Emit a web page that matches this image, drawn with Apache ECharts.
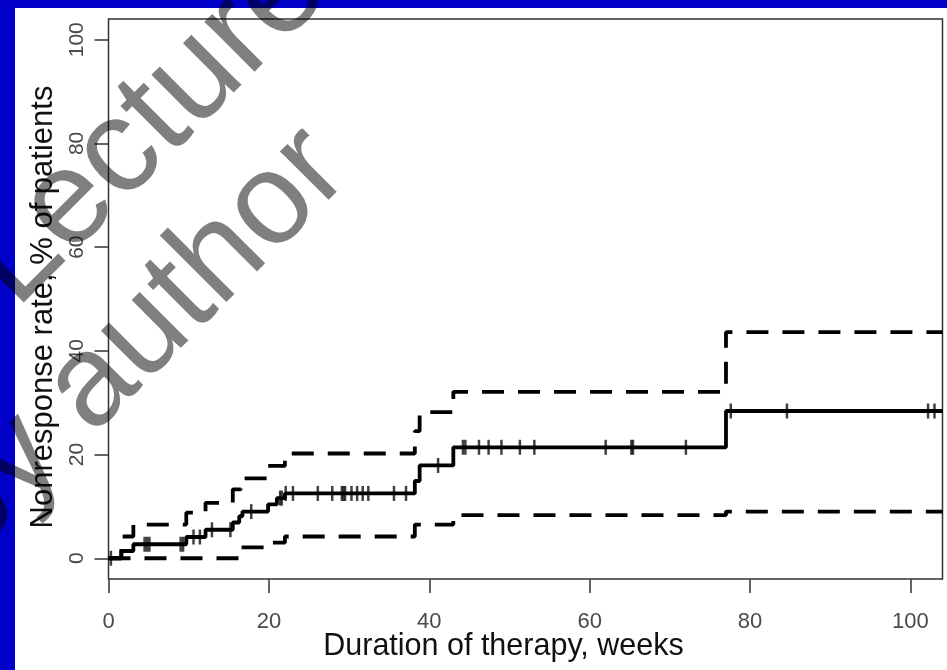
<!DOCTYPE html>
<html>
<head>
<meta charset="utf-8">
<script src="https://cdn.jsdelivr.net/npm/echarts@6/dist/echarts.min.js"></script>
<style>
  html, body { margin: 0; padding: 0; background: #0000c8; }
  #chart { width: 947px; height: 670px; }
</style>
</head>
<body>
<div id="chart"></div>
<script>
// tick labels
const xTicks = [0, 20, 40, 60, 80, 100];
const yTicks = [0, 20, 40, 60, 80, 100];

// Kaplan-Meier estimate (weeks, %)
const estTimes  = [0, 1.6, 3.1, 9.7, 12.1, 15.5, 16.3, 16.7, 19.9, 21.0, 22.0, 38.2, 38.8, 43.0, 77.0, 104];
const estValues = [0, 1.4, 2.7, 4.1, 5.5, 6.9, 8.1, 9.0, 10.4, 11.6, 12.5, 14.9, 17.9, 21.4, 28.4, 28.4];

// upper confidence band
const upTimes  = [0, 1.6, 3.1, 9.7, 12.1, 15.5, 16.5, 19.9, 22.0, 38.2, 38.8, 43.0, 77.0, 104];
const upValues = [0, 4.2, 6.5, 8.8, 10.7, 13.3, 15.4, 17.8, 20.2, 24.5, 28.2, 32.1, 43.6, 43.6];

// lower confidence band
const lowTimes  = [0, 16.3, 19.9, 22.0, 38.2, 43.0, 77.0, 104];
const lowValues = [0, 2.1, 3.0, 4.2, 6.5, 8.3, 9.0, 9.0];

// censored observations (weeks)
const censorTimes = [0.3, 4.5, 4.8, 5.1, 9.0, 9.3, 10.6, 11.4, 12.9, 15.2, 17.8, 21.4, 21.6,
  22.1, 23.0, 26.1, 27.9, 29.1, 29.3, 29.5, 30.3, 31.0, 31.7, 32.4, 35.6, 37.1, 41.1,
  44.2, 44.5, 46.2, 47.4, 49.0, 51.3, 53.1, 62.0, 65.2, 65.4, 72.0, 77.6, 84.6, 102.2, 103.0];

function pairs(t, v) {
  return t.map((x, i) => [x, v[i]]);
}
// value of step curve at time t
function stepAt(t, times, values) {
  let v = values[0];
  for (let i = 0; i < times.length; i++) {
    if (times[i] <= t) v = values[i];
  }
  return v;
}

const myChart = echarts.init(document.getElementById("chart"));
const font = "'Liberation Sans', Arial, sans-serif";

const option = {
  backgroundColor: "#0000c8",
  animation: false,
  graphic: {
    elements: [
      {
        type: "rect",
        z: -10,
        shape: { x: 15, y: 8, width: 932, height: 662 },
        style: { fill: "#ffffff" },
      },
      {
        type: "text",
        z: 100,
        x: 148,
        y: 126,
        rotation: Math.PI / 4,
        style: {
          text: "Lecture",
          fill: "rgba(0,0,0,0.5)",
          font: "134px " + font,
          align: "center",
          verticalAlign: "middle",
        },
      },
      {
        type: "text",
        z: 100,
        x: 136,
        y: 342,
        rotation: Math.PI / 4,
        style: {
          text: "by author",
          fill: "rgba(0,0,0,0.5)",
          font: "130px " + font,
          align: "center",
          verticalAlign: "middle",
        },
      },
    ],
  },
  grid: {
    left: 108.5,
    top: 19,
    right: 4.5,
    bottom: 91,
    outerBoundsMode: "none",
    show: true,
    borderColor: "#333",
    borderWidth: 1.5,
    backgroundColor: "transparent",
  },
  xAxis: {
    type: "value",
    min: 0,
    max: 104,
    name: "Duration of therapy, weeks",
    nameLocation: "middle",
    nameGap: 52,
    nameMoveOverlap: false,
    nameTextStyle: {
      color: "#111",
      fontSize: 30.5,
      fontFamily: font,
      padding: [0, 44, 0, 0],
    },
    axisLine: { show: false, onZero: false },
    axisTick: {
      show: true,
      customValues: xTicks,
      length: 14,
      lineStyle: { color: "#333", width: 1.5 },
    },
    axisLabel: {
      customValues: xTicks,
      color: "#4a4a4a",
      fontSize: 22,
      fontFamily: font,
      margin: 32,
    },
    splitLine: { show: false },
  },
  yAxis: {
    type: "value",
    min: -4,
    max: 104,
    name: "Nonresponse rate, % of patients",
    nameLocation: "middle",
    nameGap: 50,
    nameMoveOverlap: false,
    nameTextStyle: {
      color: "#111",
      fontSize: 31,
      fontFamily: font,
      padding: [0, 16, 0, 0],
    },
    axisLine: { show: false, onZero: false },
    axisTick: {
      show: true,
      customValues: yTicks,
      length: 14,
      lineStyle: { color: "#333", width: 1.5 },
    },
    axisLabel: {
      customValues: yTicks,
      rotate: 90,
      color: "#4a4a4a",
      fontSize: 21,
      fontFamily: font,
      margin: 21,
    },
    splitLine: { show: false },
  },
  series: [
    {
      name: "upper",
      type: "line",
      step: "end",
      symbol: "none",
      data: pairs(upTimes, upValues),
      lineStyle: { color: "#000", width: 3.8, type: [22, 14] },
    },
    {
      name: "lower",
      type: "line",
      step: "end",
      symbol: "none",
      data: pairs(lowTimes, lowValues),
      lineStyle: { color: "#000", width: 3.8, type: [22, 14] },
    },
    {
      name: "estimate",
      type: "line",
      step: "end",
      symbol: "none",
      data: pairs(estTimes, estValues),
      lineStyle: { color: "#000", width: 3.8 },
    },
    {
      name: "censored",
      type: "scatter",
      symbol: "rect",
      symbolSize: [2.5, 15],
      data: censorTimes.map((t) => [t, stepAt(t, estTimes, estValues)]),
      itemStyle: { color: "#111" },
    },
  ],
};

option && myChart.setOption(option, true);
</script>
</body>
</html>
